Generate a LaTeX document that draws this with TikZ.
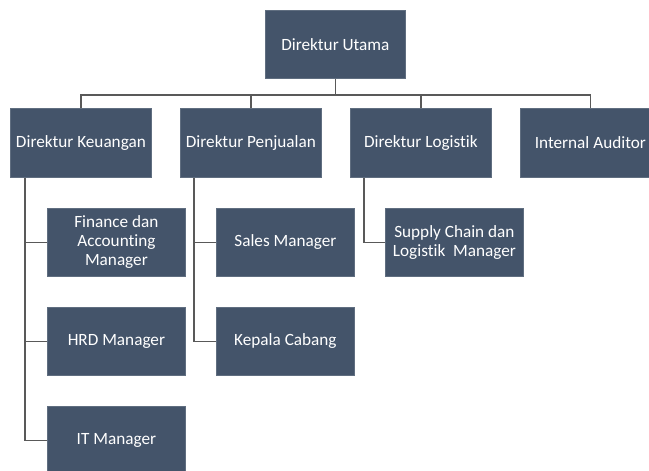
\documentclass[tikz,border=0pt]{standalone}
\usepackage{fontspec}
\setmainfont{Carlito}[Ligatures={NoCommon,NoRare,NoDiscretionary}]
\definecolor{boxc}{HTML}{44546A}
\definecolor{linec}{HTML}{595959}
\begin{document}
\begin{tikzpicture}[x=1pt,y=-1pt,
  box/.style={fill=boxc, draw=boxc!85!white, line width=0.8pt, text=white,
    minimum width=140pt, minimum height=68pt, inner sep=1pt, align=center,
    font=\fontsize{17.2}{19}\selectfont, anchor=north west},
  ln/.style={draw=linec, line width=1.5pt}]
\clip (0,0) rectangle (649,471);
\fill[white] (0,0) rectangle (649,471);
\node[box] (du) at (265,10) {Direktur Utama};
\node[box, minimum width=141pt, minimum height=69pt] (dk) at (10,108) {Direktur Keuangan};
\node[box, minimum width=141pt, minimum height=69pt] (dp) at (180,108) {Direktur Penjualan};
\node[box, minimum width=141pt, minimum height=69pt] (dl) at (350,108) {Direktur Logistik};
\node[box, minimum width=140pt, minimum height=69pt] (ia) at (520,108) {Internal Auditor};
\node[box, minimum width=138pt] (fa) at (47,208) {Finance dan\\Accounting\\Manager};
\node[box, minimum width=138pt] (sm) at (216,208) {Sales Manager};
\node[box, minimum width=138pt] (sc) at (385,208) {Supply Chain dan\\Logistik~ Manager};
\node[box, minimum width=138pt] (hrd) at (47,307) {HRD Manager};
\node[box, minimum width=138pt] (kc) at (216,307) {Kepala Cabang};
\node[box, minimum width=138pt] (it) at (47,406) {IT Manager};
\coordinate (bus) at (335,95);
\draw[ln] (du.south) -- (du.south |- bus);
\draw[ln] (dk.north) -- (dk.north |- bus) -- (ia.north |- bus) -- (ia.north);
\draw[ln] (dp.north) -- (dp.north |- bus);
\draw[ln] (dl.north) -- (dl.north |- bus);
\coordinate (k0) at ([xshift=15pt]dk.south west);
\coordinate (p0) at ([xshift=14pt]dp.south west);
\coordinate (l0) at ([xshift=14pt]dl.south west);
\draw[ln] (k0) |- (it.west);
\draw[ln] (k0 |- fa.west) -- (fa.west);
\draw[ln] (k0 |- hrd.west) -- (hrd.west);
\draw[ln] (p0) |- (kc.west);
\draw[ln] (p0 |- sm.west) -- (sm.west);
\draw[ln] (l0) |- (sc.west);
\end{tikzpicture}
\end{document}
